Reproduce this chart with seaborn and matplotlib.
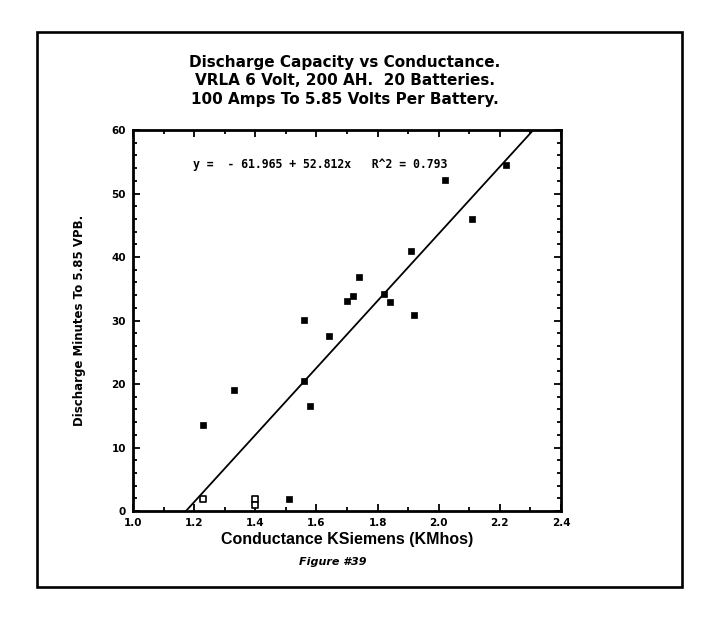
import numpy as np
import pandas as pd
import matplotlib
matplotlib.use("Agg")
import matplotlib.pyplot as plt
import seaborn as sns
from matplotlib.patches import Rectangle
from matplotlib.ticker import MultipleLocator

# data
conductance = [1.23, 1.23, 1.33, 1.40, 1.40, 1.51, 1.56, 1.58, 1.56, 1.64,
               1.70, 1.72, 1.74, 1.82, 1.84, 1.92, 1.91, 2.02, 2.11, 2.22]
minutes = [1.9, 13.6, 19.0, 1.9, 1.0, 1.9, 20.4, 16.5, 30.1, 27.6,
           33.0, 33.9, 36.9, 34.1, 32.9, 30.8, 40.9, 52.1, 46.0, 54.5]
hollow = [True, False, False, True, True, False, False, False, False, False,
          False, False, False, False, False, False, False, False, False, False]

intercept = -61.965
slope = 52.812
r_squared = 0.793

x_ticks = [1.0, 1.2, 1.4, 1.6, 1.8, 2.0, 2.2, 2.4]
y_ticks = [0, 10, 20, 30, 40, 50, 60]

title_lines = ["Discharge Capacity vs Conductance.",
               "VRLA 6 Volt, 200 AH.  20 Batteries.",
               "100 Amps To 5.85 Volts Per Battery."]

df = pd.DataFrame({"x": conductance, "y": minutes, "hollow": hollow})

sns.set_style("ticks")
plt.rcParams['font.family'] = ['DejaVu Sans']
plt.rcParams['text.color'] = 'black'
plt.rcParams['axes.labelcolor'] = 'black'
plt.rcParams['xtick.color'] = 'black'
plt.rcParams['ytick.color'] = 'black'

fig = plt.figure(figsize=(7.07, 6.2), dpi=100)
ax = fig.add_axes([0.1881, 0.1758, 0.6054, 0.6145])

# outer frame of the figure
fig.patches.append(Rectangle((0.0523, 0.0532), 0.912, 0.895, transform=fig.transFigure,
                             fill=False, edgecolor='black', linewidth=1.9))

# regression line, from y = 0 up to the top of the axis
x_fit = np.array([-intercept / slope, (60 - intercept) / slope])
y_fit = intercept + slope * x_fit
sns.lineplot(x=x_fit, y=y_fit, ax=ax, color='black', linewidth=1.3)

sns.scatterplot(data=df[~df["hollow"]], x="x", y="y", ax=ax, marker='s', s=24,
                color='black', edgecolor='black', linewidth=0.5)
sns.scatterplot(data=df[df["hollow"]], x="x", y="y", ax=ax, marker='s', s=20,
                facecolor='white', edgecolor='black', linewidth=1.2)

ax.set_xlim(x_ticks[0], x_ticks[-1])
ax.set_ylim(y_ticks[0], y_ticks[-1])
ax.set_xticks(x_ticks)
ax.set_xticklabels([f"{t:.1f}" for t in x_ticks])
ax.set_yticks(y_ticks)
ax.set_yticklabels([str(t) for t in y_ticks])
ax.xaxis.set_minor_locator(MultipleLocator(0.1))
ax.yaxis.set_minor_locator(MultipleLocator(2))
ax.tick_params(which='both', direction='in', top=True, right=True, width=1.3,
               labelsize=7.5, pad=5)
ax.tick_params(which='major', length=5)
ax.tick_params(which='minor', length=3)
for lab in ax.get_xticklabels() + ax.get_yticklabels():
    lab.set_fontweight('bold')
for sp in ax.spines.values():
    sp.set_visible(True)
    sp.set_linewidth(2)
    sp.set_color('black')

ax.text(1.196, 54.6, f"y =  - {abs(intercept):.3f} + {slope:.3f}x   R^2 = {r_squared:.3f}",
        family='DejaVu Sans Mono', fontweight='bold', fontsize=8.3, va='center', ha='left')

ax.set_xlabel("Conductance KSiemens (KMhos)", family='Liberation Sans', fontweight='bold',
              fontsize=11.5, labelpad=3)
ax.set_ylabel("Discharge Minutes To 5.85 VPB.", fontweight='bold', fontsize=8.5, labelpad=18)

fig.text(0.488, 0.8694, "\n".join(title_lines), ha='center', va='center',
         fontweight='bold', fontsize=11, linespacing=1.3)
fig.text(0.471, 0.0935, "Figure #39", ha='center', va='center', fontweight='bold',
         fontstyle='italic', fontsize=8)

fig.savefig("out.png", dpi=100)
